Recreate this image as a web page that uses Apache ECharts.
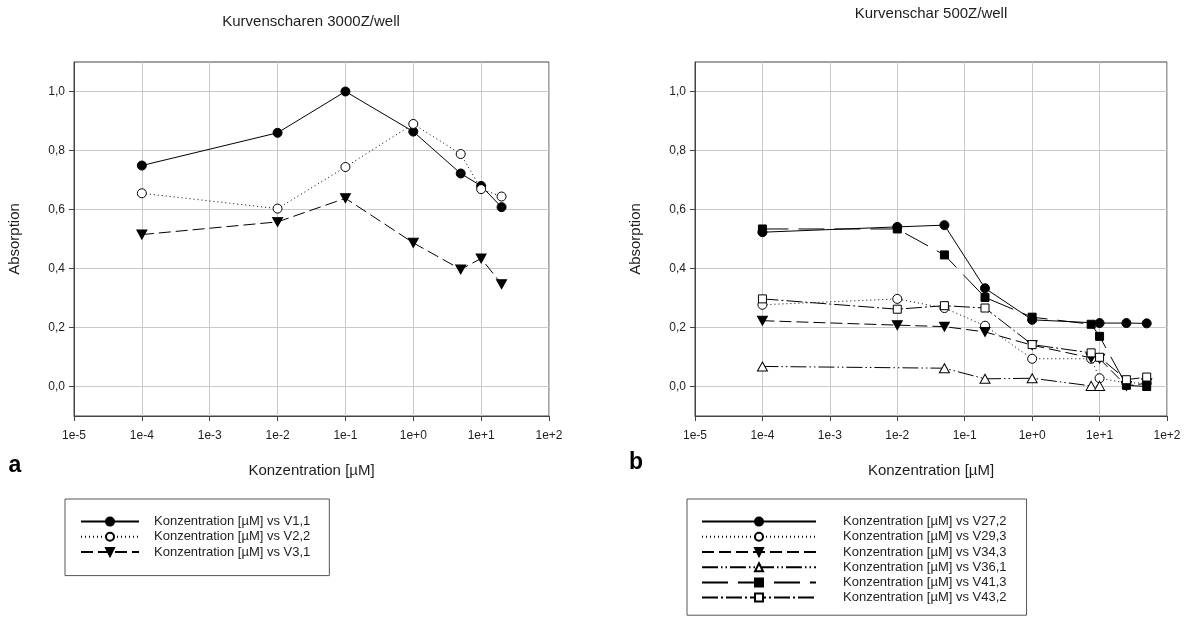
<!DOCTYPE html>
<html><head><meta charset="utf-8">
<script src="https://cdn.jsdelivr.net/npm/echarts@6/dist/echarts.min.js"></script>
<style>html,body{margin:0;padding:0;background:#fff}#c{width:1188px;height:617px}</style>
</head><body><div id="c"></div>
<script>
// ---- data: chart a (3000Z/well) ----
const xA = [1e-4, 1e-2, 1e-1, 1, 5, 10, 20];
const V1_1 = [0.749, 0.860, 1.000, 0.864, 0.722, 0.680, 0.608];
const V2_2 = [0.655, 0.603, 0.744, 0.890, 0.788, 0.669, 0.644];
const V3_1 = [0.515, 0.558, 0.638, 0.487, 0.397, 0.434, 0.347];
// ---- data: chart b (500Z/well) ----
const xB = [1e-4, 1e-2, 0.05, 0.2, 1, 7.5, 10, 25, 50];
const V27_2 = [0.523, 0.541, 0.547, 0.333, 0.226, null, 0.215, 0.215, 0.214];
const V29_3 = [0.277, 0.297, 0.266, 0.206, 0.094, 0.094, 0.028, 0.012, 0.012];
const V34_3 = [0.223, 0.208, 0.203, 0.185, 0.140, 0.097, 0.094, 0.002, 0.011];
const V36_1 = [0.068, null, 0.062, 0.026, 0.028, 0.002, 0.002, null, null];
const V41_3 = [0.534, 0.534, 0.446, 0.302, 0.235, 0.211, 0.170, 0.004, 0.000];
const V43_2 = [0.297, 0.262, 0.274, 0.266, 0.142, 0.114, 0.099, 0.023, 0.032];
// ---- tick labels ----
const yTicks = [0, 0.2, 0.4, 0.6, 0.8, 1.0];

const FONT = 'Liberation Sans, Arial, sans-serif';
const TXT = '#1e1e1e';
const pairs = (xs, ys) => xs.map((x, i) => [x, ys[i]]).filter(p => p[1] !== null);
const tri_down = 'path://M0,0 L10,0 L5,9 Z';
const tri_up = 'path://M5,0 L10,9 L0,9 Z';

function mk(name, xs, ys, idx, dash, symbol, size, filled) {
  return {
    type: 'line', name, xAxisIndex: idx, yAxisIndex: idx,
    data: pairs(xs, ys), symbol, symbolSize: size, showSymbol: true,
    animation: false, connectNulls: true,
    lineStyle: { color: '#000', width: 1, type: dash },
    itemStyle: filled ? { color: '#000', borderColor: '#000', borderWidth: 1 }
                      : { color: '#fff', borderColor: '#000', borderWidth: 1 },
    emphasis: { disabled: true }
  };
}
const lbl = s => 'Konzentration [µM] vs ' + s;

const series = [
  mk(lbl('V1,1'), xA, V1_1, 0, 'solid', 'circle', 9, true),
  mk(lbl('V2,2'), xA, V2_2, 0, [1, 3], 'circle', 9, false),
  mk(lbl('V3,1'), xA, V3_1, 0, [12, 5], tri_down, [10, 9], true),
  mk(lbl('V27,2'), xB, V27_2, 1, 'solid', 'circle', 9, true),
  mk(lbl('V29,3'), xB, V29_3, 1, [1, 3], 'circle', 9, false),
  mk(lbl('V34,3'), xB, V34_3, 1, [12, 5], tri_down, [10, 9], true),
  mk(lbl('V36,1'), xB, V36_1, 1, [16, 3, 1.5, 3, 1.5, 3], tri_up, [10, 9], false),
  mk(lbl('V41,3'), xB, V41_3, 1, [26, 10], 'rect', 8, true),
  mk(lbl('V43,2'), xB, V43_2, 1, [16, 3, 2, 3], 'rect', 8, false)
];

function xAxis(idx) {
  return {
    type: 'log', logBase: 10, gridIndex: idx, min: 1e-5, max: 1e2, splitNumber: 7,
    name: 'Konzentration [µM]', nameLocation: 'middle', nameGap: 47,
    nameTextStyle: { fontSize: 15, color: TXT, fontFamily: FONT },
    axisLine: { show: true, onZero: false, lineStyle: { color: '#444', width: 1 } },
    axisTick: { show: true, inside: false, length: 5, lineStyle: { color: '#444' } },
    minorTick: { show: false },
    axisLabel: { fontSize: 12, color: TXT, fontFamily: FONT, margin: 14,
      formatter: v => { const e = Math.round(Math.log10(v)); return '1e' + (e >= 0 ? '+' : '') + e; } },
    splitLine: { show: true, lineStyle: { color: '#c9c9c9', width: 1 } }
  };
}
function yAxis(idx) {
  return {
    type: 'value', gridIndex: idx, min: -0.1, max: 1.1,
    name: 'Absorption', nameLocation: 'middle', nameGap: 52,
    nameTextStyle: { fontSize: 15, color: TXT, fontFamily: FONT },
    axisLine: { show: true, onZero: false, lineStyle: { color: '#444', width: 1 } },
    axisTick: { show: true, inside: false, length: 5, customValues: yTicks, lineStyle: { color: '#444' } },
    axisLabel: { fontSize: 12, color: TXT, fontFamily: FONT, margin: 9, customValues: yTicks,
      formatter: v => v.toFixed(1).replace('.', ',') },
    splitLine: { show: true, lineStyle: { color: '#c9c9c9', width: 1 } }
  };
}

const legendBase = {
  orient: 'vertical', align: 'left', itemHeight: 10, itemGap: 0,
  borderColor: '#555', borderWidth: 1, selectedMode: false,
  textStyle: { fontSize: 13, color: TXT, fontFamily: FONT, lineHeight: 15.2 }
};

const chart = echarts.init(document.getElementById('c'), null, { renderer: 'canvas' });
chart.setOption({
  backgroundColor: '#fff',
  animation: false,
  grid: [
    { left: 74, right: 639, top: 62, bottom: 201, show: true, borderColor: '#444', borderWidth: 1, containLabel: false },
    { left: 695, right: 21, top: 62, bottom: 201, show: true, borderColor: '#444', borderWidth: 1, containLabel: false }
  ],
  xAxis: [xAxis(0), xAxis(1)],
  yAxis: [yAxis(0), yAxis(1)],
  legend: [
    Object.assign({}, legendBase, {
      left: 65, top: 499, itemWidth: 58, padding: [15, 19, 16, 15],
      data: series.slice(0, 3).map(s => s.name),
      textStyle: Object.assign({}, legendBase.textStyle, { padding: [0, 0, 0, 10] })
    }),
    Object.assign({}, legendBase, {
      left: 687, top: 499, itemWidth: 114, padding: [15, 20, 10, 14],
      data: series.slice(3).map(s => s.name),
      textStyle: Object.assign({}, legendBase.textStyle, { padding: [0, 0, 0, 22] })
    })
  ],
  graphic: [
    { type: 'text', x: 311, y: 22, style: { text: 'Kurvenscharen 3000Z/well', fill: TXT, font: '15px ' + FONT, textAlign: 'center', textVerticalAlign: 'middle' } },
    { type: 'text', x: 931, y: 14, style: { text: 'Kurvenschar 500Z/well', fill: TXT, font: '15px ' + FONT, textAlign: 'center', textVerticalAlign: 'middle' } },
    { type: 'text', x: 15, y: 466, style: { text: 'a', fill: '#000', font: 'bold 23px ' + FONT, textAlign: 'center', textVerticalAlign: 'middle' } },
    { type: 'text', x: 636, y: 463, style: { text: 'b', fill: '#000', font: 'bold 23px ' + FONT, textAlign: 'center', textVerticalAlign: 'middle' } }
  ],
  series
});
</script></body></html>
